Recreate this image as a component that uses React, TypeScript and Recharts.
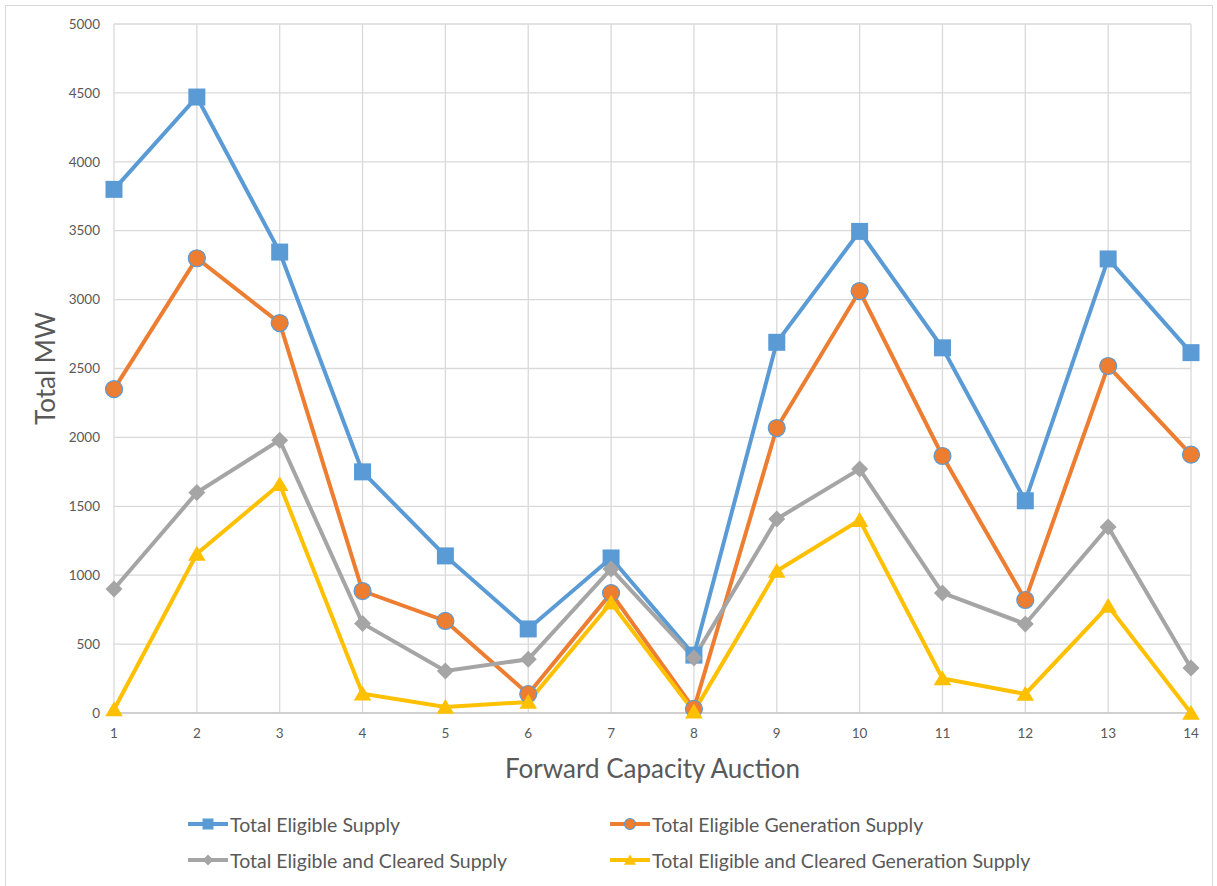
import { LineChart, Line, XAxis, YAxis, CartesianGrid, Legend } from 'recharts';

// Forward Capacity Auction 1..14, MW
const auctions = ['1', '2', '3', '4', '5', '6', '7', '8', '9', '10', '11', '12', '13', '14'];
const totalEligible = [3800, 4470, 3345, 1750, 1140, 610, 1125, 420, 2690, 3495, 2650, 1540, 3295, 2615];
const eligibleGeneration = [2350, 3300, 2830, 885, 668, 138, 870, 30, 2068, 3062, 1865, 820, 2518, 1875];
const eligibleCleared = [900, 1600, 1980, 650, 305, 390, 1045, 400, 1408, 1770, 871, 646, 1350, 327];
const eligibleClearedGeneration = [25, 1155, 1660, 140, 44, 80, 800, 10, 1030, 1400, 250, 138, 776, 0];
const yTicks = [0, 500, 1000, 1500, 2000, 2500, 3000, 3500, 4000, 4500, 5000];

type Shape = 'square' | 'circle' | 'diamond' | 'triangle';

const SERIES: { key: string; name: string; color: string; shape: Shape }[] = [
  { key: 'totalEligible', name: 'Total Eligible Supply', color: '#5B9BD5', shape: 'square' },
  { key: 'eligibleGeneration', name: 'Total Eligible Generation Supply', color: '#ED7D31', shape: 'circle' },
  { key: 'eligibleCleared', name: 'Total Eligible and Cleared Supply', color: '#A5A5A5', shape: 'diamond' },
  { key: 'eligibleClearedGeneration', name: 'Total Eligible and Cleared Generation Supply', color: '#FFC000', shape: 'triangle' },
];

const data = auctions.map((auction, i) => ({
  auction,
  totalEligible: totalEligible[i],
  eligibleGeneration: eligibleGeneration[i],
  eligibleCleared: eligibleCleared[i],
  eligibleClearedGeneration: eligibleClearedGeneration[i],
}));

const FONT = 'Lato, "Open Sans", sans-serif';
const TEXT = '#595959';

function marker(shape: Shape, color: string, cx: number, cy: number, s: number, key?: string) {
  const h = s / 2;
  switch (shape) {
    case 'square':
      return <rect key={key} x={cx - h} y={cy - h} width={s} height={s} fill={color} />;
    case 'circle':
      return <circle key={key} cx={cx} cy={cy} r={h} fill={color} stroke="#5B9BD5" strokeWidth={1.2} />;
    case 'diamond':
      return <path key={key} d={`M${cx},${cy - h}L${cx + h},${cy}L${cx},${cy + h}L${cx - h},${cy}Z`} fill={color} />;
    default:
      return <path key={key} d={`M${cx},${cy - h}L${cx + h * 1.1},${cy + h * 0.85}L${cx - h * 1.1},${cy + h * 0.85}Z`} fill={color} />;
  }
}

function LegendContent() {
  return (
    <div style={{ position: 'relative', height: 72, width: 1217, fontFamily: FONT, fontSize: 19.5, color: TEXT }}>
      {SERIES.map((s, i) => (
        <div
          key={s.key}
          style={{
            position: 'absolute',
            left: i % 2 === 0 ? 188 : 610,
            top: i < 2 ? 4 : 40,
            height: 28,
            display: 'flex',
            alignItems: 'center',
            whiteSpace: 'nowrap',
          }}
        >
          <svg width={40} height={14} style={{ marginRight: 2 }}>
            <line x1={0} y1={7} x2={40} y2={7} stroke={s.color} strokeWidth={4} />
            {marker(s.shape, s.color, 20, 7, 11)}
          </svg>
          {s.name}
        </div>
      ))}
    </div>
  );
}

export default function App() {
  return (
    <div style={{ position: 'relative', width: 1217, height: 886, overflow: 'hidden', background: '#fff' }}>
      <style>{'body{margin:0}'}</style>
      <div
        style={{
          position: 'absolute',
          left: 5,
          top: 5,
          width: 1208,
          height: 900,
          border: '1px solid #d9d9d9',
          boxSizing: 'border-box',
        }}
      />
      <LineChart width={1217} height={886} data={data} margin={{ top: 24, right: 26, bottom: 8, left: 0 }}>
        <CartesianGrid stroke="#d9d9d9" strokeWidth={1.3} />
        <XAxis
          dataKey="auction"
          height={93}
          stroke="#bfbfbf"
          tickLine={false}
          tickSize={0}
          tickMargin={15}
          tick={{ fill: TEXT, fontSize: 13.5, fontFamily: FONT }}
          label={{
            content: ({ viewBox }: any) => (
              <text
                x={viewBox.x + viewBox.width / 2}
                y={viewBox.y + 55}
                textAnchor="middle"
                dominantBaseline="central"
                fill={TEXT}
                fontSize={26}
                fontFamily={FONT}
              >
                Forward Capacity Auction
              </text>
            ),
          }}
        />
        <YAxis
          width={114}
          domain={[0, 5000]}
          ticks={yTicks}
          axisLine={false}
          tickLine={false}
          tickSize={0}
          tickMargin={14}
          tick={{ fill: TEXT, fontSize: 13.5, fontFamily: FONT }}
          label={{
            content: ({ viewBox }: any) => (
              <text
                x={45}
                y={viewBox.y + viewBox.height / 2}
                transform={`rotate(-90 45 ${viewBox.y + viewBox.height / 2})`}
                textAnchor="middle"
                dominantBaseline="central"
                fill={TEXT}
                fontSize={26}
                fontFamily={FONT}
              >
                Total MW
              </text>
            ),
          }}
        />
        <Legend verticalAlign="bottom" content={<LegendContent />} wrapperStyle={{ left: 0, width: 1217 }} />
        {SERIES.map((s) => (
          <Line
            key={s.key}
            type="linear"
            dataKey={s.key}
            name={s.name}
            stroke={s.color}
            strokeWidth={4}
            isAnimationActive={false}
            dot={(p: any) => marker(s.shape, s.color, p.cx, p.cy, s.shape === 'triangle' ? 16 : 17, `${s.key}-${p.index}`)}
            activeDot={false}
          />
        ))}
      </LineChart>
    </div>
  );
}
